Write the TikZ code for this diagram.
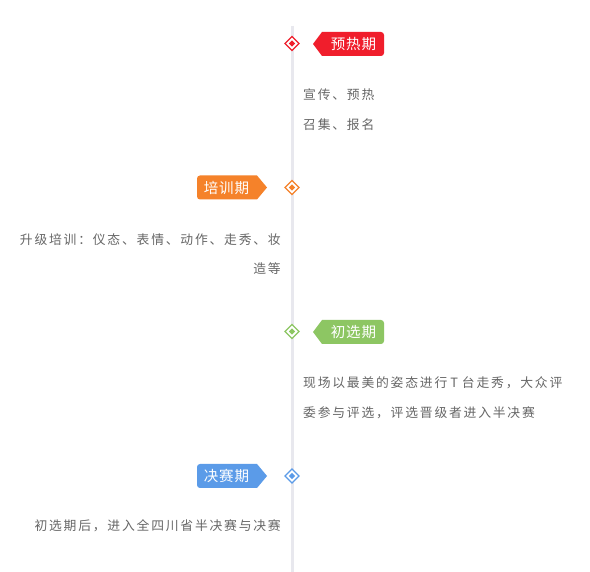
\documentclass[tikz,border=0pt]{standalone}
\usepackage{fontspec}
\usetikzlibrary{shapes.geometric}
\newfontfamily\cjkbody[LetterSpace=14]{Noto Sans CJK SC}
\newfontfamily\cjktag[LetterSpace=6]{Noto Sans CJK SC}
\definecolor{linegray}{HTML}{E8E8EE}
\definecolor{txtgray}{HTML}{666666}
\definecolor{tred}{HTML}{F01E2C}
\definecolor{torange}{HTML}{F5822A}
\definecolor{tgreen}{HTML}{8DC663}
\definecolor{tblue}{HTML}{5B9BE8}
\begin{document}
\begin{tikzpicture}[x=1pt,y=-1pt,
  bodytext/.style={font=\cjkbody\fontsize{12.8}{14}\selectfont, text=txtgray, inner sep=0},
  tagtext/.style={font=\cjktag\fontsize{14.5}{16}\selectfont, text=white, inner sep=0},
  outerdia/.style={diamond, draw=#1, fill=white, line width=1.2pt, minimum size=14.5pt, inner sep=0},
  innerdia/.style={diamond, fill=#1, minimum size=6.5pt, inner sep=0}]
\useasboundingbox (0,0) rectangle (590,572);
\fill[white] (0,0) rectangle (590,572);
\draw[line width=3pt, color=linegray] (292,26) -- (292,572);

% diamonds
\node[outerdia=tred] (d1) at (292,43.5) {};
\node[innerdia=tred] (d1i) at (d1) {};
\node[outerdia=torange] (d2) at (292,187.5) {};
\node[innerdia=torange] (d2i) at (d2) {};
\node[outerdia=tgreen] (d3) at (292,331.5) {};
\node[innerdia=tgreen] (d3i) at (d3) {};
\node[outerdia=tblue] (d4) at (292,476) {};
\node[innerdia=tblue] (d4i) at (d4) {};

% tags
\fill[tred] (313,44) -- (322,32) [rounded corners=3] -- (384,32) -- (384,56) [sharp corners] -- (322,56) -- cycle;
\node[tagtext] (t1) at (353.5,44) {预热期};
\fill[torange] (267,187.5) -- (257,175.5) [rounded corners=3] -- (197,175.5) -- (197,199.5) [sharp corners] -- (257,199.5) -- cycle;
\node[tagtext] (t2) at (226.5,187.5) {培训期};
\fill[tgreen] (313,332) -- (322,320) [rounded corners=3] -- (384,320) -- (384,344) [sharp corners] -- (322,344) -- cycle;
\node[tagtext] (t3) at (353.5,332) {初选期};
\fill[tblue] (267,476) -- (257,464) [rounded corners=3] -- (197,464) -- (197,488) [sharp corners] -- (257,488) -- cycle;
\node[tagtext] (t4) at (226.5,476) {决赛期};

% body texts
\node[bodytext, anchor=west] (a1) at (303,95) {宣传、预热};
\node[bodytext, anchor=west] (a2) at (303,125) {召集、报名};
\node[bodytext, anchor=east] (b1) at (281,240) {升级培训：仪态、表情、动作、走秀、妆};
\node[bodytext, anchor=east] (b2) at (281,269) {造等};
\node[bodytext, anchor=west] (c1) at (303,383) {现场以最美的姿态进行\kern3pt T\kern4pt 台走秀，大众评};
\node[bodytext, anchor=west] (c2) at (303,413) {委参与评选，评选晋级者进入半决赛};
\node[bodytext, anchor=east] (e1) at (281,526) {初选期后，进入全四川省半决赛与决赛};
\end{tikzpicture}
\end{document}
